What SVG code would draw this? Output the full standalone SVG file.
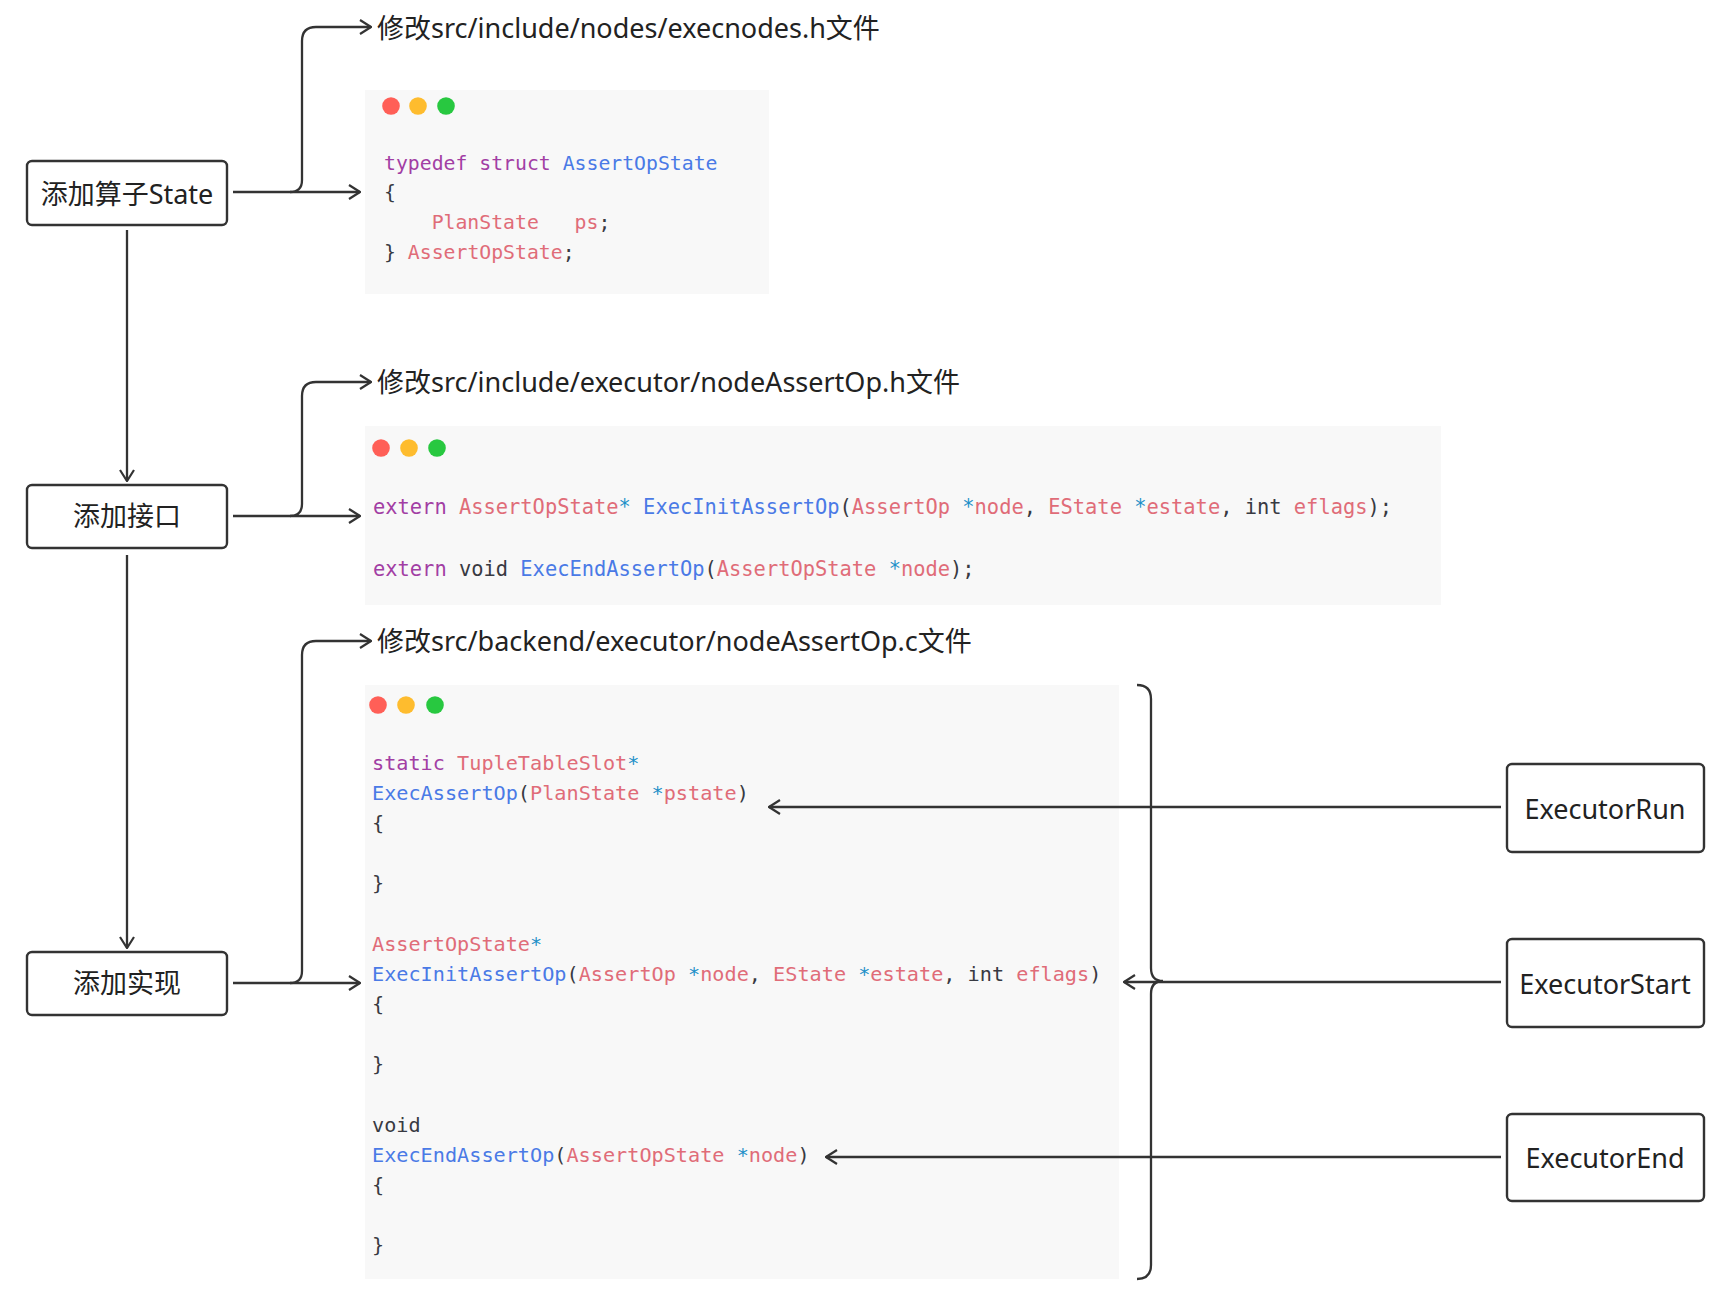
<svg xmlns="http://www.w3.org/2000/svg" width="1722" height="1302" viewBox="0 0 1722 1302">
<style>
.bg{fill:#ffffff}
.node rect{fill:#ffffff;stroke:#333333;stroke-width:2.4}
.lbl{font-family:"Noto Sans","Noto Sans CJK SC",sans-serif;font-size:27px;fill:#222222}
.conn path{fill:none;stroke:#333333;stroke-width:2.3}
.codebg{fill:#f8f8f8}
.code{font-family:"DejaVu Sans Mono","Liberation Mono",monospace;fill:#383a42}
.k{fill:#a23ea4}
.f{fill:#4a7ae6}
.v{fill:#e06c78}
.p{fill:#1e90c8}
.d{fill:#383a42}
.r{fill:#ff5f57}
.y{fill:#febc2e}
.g{fill:#28c840}
</style>
<defs>
<marker id="arr" viewBox="0 0 13 16" refX="12" refY="8" markerWidth="13" markerHeight="16" markerUnits="userSpaceOnUse" orient="auto">
<path d="M1,1 L12,8 L1,15" fill="none" stroke="#333333" stroke-width="2.2"/>
</marker>
</defs>
<rect class="bg" x="0" y="0" width="1722" height="1302"/>

<!-- code block 1 -->
<g id="code1">
<rect class="codebg" x="365" y="90" width="404" height="204"/>
<circle class="r" cx="391" cy="106" r="8.8"/>
<circle class="y" cx="418" cy="106" r="8.8"/>
<circle class="g" cx="446" cy="106" r="8.8"/>
<text class="code" font-size="19.8" x="384" y="170" xml:space="preserve"><tspan class="k">typedef struct</tspan> <tspan class="f">AssertOpState</tspan></text>
<text class="code" font-size="19.8" x="384" y="199" xml:space="preserve"><tspan class="d">{</tspan></text>
<text class="code" font-size="19.8" x="384" y="229" xml:space="preserve">    <tspan class="v">PlanState</tspan>   <tspan class="v">ps</tspan><tspan class="d">;</tspan></text>
<text class="code" font-size="19.8" x="384" y="259" xml:space="preserve"><tspan class="d">}</tspan> <tspan class="v">AssertOpState</tspan><tspan class="d">;</tspan></text>
</g>

<!-- code block 2 -->
<g id="code2">
<rect class="codebg" x="365" y="426" width="1076" height="179"/>
<circle class="r" cx="381" cy="448" r="8.8"/>
<circle class="y" cx="409" cy="448" r="8.8"/>
<circle class="g" cx="437" cy="448" r="8.8"/>
<text class="code" font-size="20.4" x="373" y="514" xml:space="preserve"><tspan class="k">extern</tspan> <tspan class="v">AssertOpState</tspan><tspan class="p">*</tspan> <tspan class="f">ExecInitAssertOp</tspan><tspan class="d">(</tspan><tspan class="v">AssertOp</tspan> <tspan class="p">*</tspan><tspan class="v">node</tspan><tspan class="d">, </tspan><tspan class="v">EState</tspan> <tspan class="p">*</tspan><tspan class="v">estate</tspan><tspan class="d">, int </tspan><tspan class="v">eflags</tspan><tspan class="d">);</tspan></text>
<text class="code" font-size="20.4" x="373" y="576" xml:space="preserve"><tspan class="k">extern</tspan><tspan class="d"> void </tspan><tspan class="f">ExecEndAssertOp</tspan><tspan class="d">(</tspan><tspan class="v">AssertOpState</tspan> <tspan class="p">*</tspan><tspan class="v">node</tspan><tspan class="d">);</tspan></text>
</g>

<!-- code block 3 -->
<g id="code3">
<rect class="codebg" x="365" y="685" width="754" height="594"/>
<circle class="r" cx="378" cy="705" r="8.8"/>
<circle class="y" cx="406" cy="705" r="8.8"/>
<circle class="g" cx="435" cy="705" r="8.8"/>
<text class="code" font-size="20.2" x="372" y="770" xml:space="preserve"><tspan class="k">static</tspan> <tspan class="v">TupleTableSlot</tspan><tspan class="p">*</tspan></text>
<text class="code" font-size="20.2" x="372" y="800" xml:space="preserve"><tspan class="f">ExecAssertOp</tspan><tspan class="d">(</tspan><tspan class="v">PlanState</tspan> <tspan class="p">*</tspan><tspan class="v">pstate</tspan><tspan class="d">)</tspan></text>
<text class="code" font-size="20.2" x="372" y="830" xml:space="preserve"><tspan class="d">{</tspan></text>
<text class="code" font-size="20.2" x="372" y="890" xml:space="preserve"><tspan class="d">}</tspan></text>
<text class="code" font-size="20.2" x="372" y="951" xml:space="preserve"><tspan class="v">AssertOpState</tspan><tspan class="p">*</tspan></text>
<text class="code" font-size="20.2" x="372" y="981" xml:space="preserve"><tspan class="f">ExecInitAssertOp</tspan><tspan class="d">(</tspan><tspan class="v">AssertOp</tspan> <tspan class="p">*</tspan><tspan class="v">node</tspan><tspan class="d">, </tspan><tspan class="v">EState</tspan> <tspan class="p">*</tspan><tspan class="v">estate</tspan><tspan class="d">, int </tspan><tspan class="v">eflags</tspan><tspan class="d">)</tspan></text>
<text class="code" font-size="20.2" x="372" y="1011" xml:space="preserve"><tspan class="d">{</tspan></text>
<text class="code" font-size="20.2" x="372" y="1071" xml:space="preserve"><tspan class="d">}</tspan></text>
<text class="code" font-size="20.2" x="372" y="1132" xml:space="preserve"><tspan class="d">void</tspan></text>
<text class="code" font-size="20.2" x="372" y="1162" xml:space="preserve"><tspan class="f">ExecEndAssertOp</tspan><tspan class="d">(</tspan><tspan class="v">AssertOpState</tspan> <tspan class="p">*</tspan><tspan class="v">node</tspan><tspan class="d">)</tspan></text>
<text class="code" font-size="20.2" x="372" y="1192" xml:space="preserve"><tspan class="d">{</tspan></text>
<text class="code" font-size="20.2" x="372" y="1252" xml:space="preserve"><tspan class="d">}</tspan></text>
</g>

<!-- titles -->
<g id="title1"><text class="lbl" x="377" y="38">修改src/include/nodes/execnodes.h文件</text></g>
<g id="title2"><text class="lbl" x="377" y="392">修改src/include/executor/nodeAssertOp.h文件</text></g>
<g id="title3"><text class="lbl" x="377" y="651">修改src/backend/executor/nodeAssertOp.c文件</text></g>

<!-- connectors -->
<g id="connectors" class="conn">
<path d="M127 230 V481" marker-end="url(#arr)"/>
<path d="M127 555 V948" marker-end="url(#arr)"/>
<path d="M233 192 H360" marker-end="url(#arr)"/>
<path d="M290 192 Q302 192 302 180 V41 Q302 27 316 27 H371" marker-end="url(#arr)"/>
<path d="M233 516 H360" marker-end="url(#arr)"/>
<path d="M290 516 Q302 516 302 504 V396 Q302 382 316 382 H371" marker-end="url(#arr)"/>
<path d="M233 983 H360" marker-end="url(#arr)"/>
<path d="M290 983 Q302 983 302 971 V655 Q302 641 316 641 H371" marker-end="url(#arr)"/>
<path d="M1137 685 Q1151 685 1151 699 V968 Q1151 981 1163 981 Q1151 981 1151 994 V1265 Q1151 1279 1137 1279"/>
<path d="M1501 807 H769" marker-end="url(#arr)"/>
<path d="M1501 982 H1124" marker-end="url(#arr)"/>
<path d="M1501 1157 H826" marker-end="url(#arr)"/>
</g>

<!-- nodes -->
<g id="n-state" class="node"><rect x="27" y="161" width="200" height="64" rx="5"/><text class="lbl" x="127" y="204" text-anchor="middle">添加算子State</text></g>
<g id="n-iface" class="node"><rect x="27" y="485" width="200" height="63" rx="5"/><text class="lbl" x="127" y="526" text-anchor="middle">添加接口</text></g>
<g id="n-impl" class="node"><rect x="27" y="952" width="200" height="63" rx="5"/><text class="lbl" x="127" y="993" text-anchor="middle">添加实现</text></g>
<g id="n-run" class="node"><rect x="1507" y="764" width="197" height="88" rx="5"/><text class="lbl" x="1605" y="819" text-anchor="middle">ExecutorRun</text></g>
<g id="n-start" class="node"><rect x="1507" y="939" width="197" height="88" rx="5"/><text class="lbl" x="1605" y="994" text-anchor="middle">ExecutorStart</text></g>
<g id="n-end" class="node"><rect x="1507" y="1114" width="197" height="87" rx="5"/><text class="lbl" x="1605" y="1168" text-anchor="middle">ExecutorEnd</text></g>
</svg>
